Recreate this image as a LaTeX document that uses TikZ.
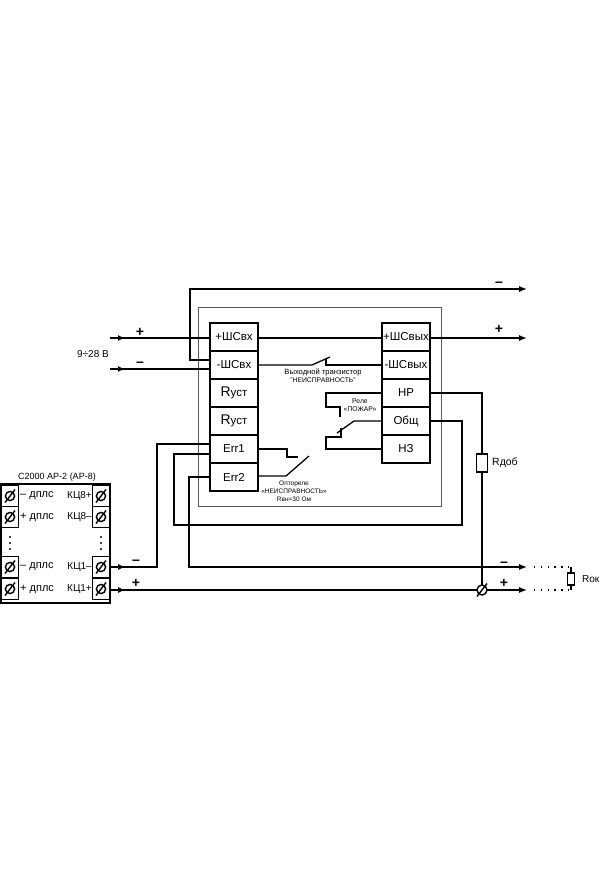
\documentclass[tikz,border=0pt]{standalone}
\usepackage{fontspec}
\setmainfont{Liberation Sans}
\usetikzlibrary{arrows.meta,decorations.markings}
\newcommand{\Rust}{{\fontsize{14}{14}\selectfont R}уст}
\tikzset{
  wire/.style={line width=1.3pt},
  wirein/.style={wire,postaction={decorate},decoration={markings,
      mark=at position 15pt with {\arrow{Latex[length=7pt,width=6pt]}}}},
  wireout/.style={wire,-{Latex[length=8pt,width=6pt]}},
  cell/.style={draw,line width=1.7pt,minimum width=48pt,minimum height=28pt,
      inner sep=0pt,font=\fontsize{11.5}{12}\selectfont},
  term/.style={draw,line width=1.3pt,minimum width=17pt,minimum height=21pt,inner sep=0pt},
  tag/.style={inner sep=0pt,font=\fontsize{10}{11}\selectfont},
  small/.style={inner sep=0pt,align=center,font=\fontsize{6.8}{8.2}\selectfont},
  sign/.style={inner sep=0pt,font=\bfseries\fontsize{14}{14}\selectfont},
  resist/.style={draw,line width=1.3pt,fill=white,inner sep=0pt},
  dotwire/.style={line width=1.2pt,dash pattern=on 1.3pt off 5.5pt}
}
\begin{document}
\begin{tikzpicture}[x=1pt,y=-1pt]
  \useasboundingbox (0,0) rectangle (600,888);
  %
  % frame of the device
  \draw[gray!70!black,line width=0.8pt] (198,307) rectangle (441,506);
  %
  % left and right rows of cells
  \foreach \name/\txt/\yy in {pin/+ШСвх/337, min/-ШСвх/365, ra/\Rust/393,
                              rb/\Rust/421, erra/Err1/449, errb/Err2/477}
    \node[cell] (\name) at (234,\yy) {\txt};
  \foreach \name/\txt/\yy in {pout/+ШСвых/337, mout/-ШСвых/365, nr/НР/393,
                              com/Общ/421, nz/НЗ/449}
    \node[cell] (\name) at (406,\yy) {\txt};
  %
  % the module, lower left
  \node[draw,line width=2pt,minimum width=109pt,minimum height=119pt,inner sep=0pt]
    (module) at (55,543) {};
  \node[tag,font=\fontsize{9}{11}\selectfont] (modtitle) at (57,477) {С2000 АР-2 (АР-8)};
  \foreach \name/\yy/\ltxt/\rtxt in {a/496/– дплс/КЦ8+, b/517/+ дплс/КЦ8–,
                                     c/567/– дплс/КЦ1–, d/589/+ дплс/КЦ1+}
  {
    \node[term] (tl\name) at (10,\yy) {};
    \node[term] (tr\name) at (101,\yy) {};
    \node[tag,anchor=west,font=\fontsize{11}{11}\selectfont] (ll\name) at (20,\yy) {\ltxt};
    \node[tag,anchor=east] (lr\name) at (92,\yy) {\rtxt};
    \foreach \cc in {tl\name,tr\name}
    {
      \draw[line width=1.4pt] (\cc) circle (4.6pt);
      \draw[line width=1.4pt] ([shift={(-5,6.5)}]\cc.center) -- ([shift={(5,-6.5)}]\cc.center);
    }
  }
  \foreach \xx in {10,101}
    \foreach \yy in {537,543,549}
      \fill (\xx,\yy) circle (1.2pt);
  %
  % supply
  \coordinate (inp) at (110,338);
  \coordinate (inm) at (110,369);
  \node[tag] (volt) at (93,354) {9÷28 В};
  \node[sign] (sinp) at (140,332) {+};
  \node[sign] (sinm) at (140,364) {–};
  \draw[wirein] (inp) -- (pin.west |- inp);
  \draw[wirein] (inm) -- (min.west |- inm);
  \draw[wire] (pin.east |- inp) -- (pout.west |- inp);
  %
  % outputs on the top
  \coordinate (topend) at (527,289);
  \coordinate (topout) at (527,338);
  \node[sign] (stop) at (499,284) {–};
  \node[sign] (sout) at (499,329) {+};
  \draw[wireout] (min.west |- 0,360) -| (190,289) -- (topend);
  \draw[wireout] (pout.east |- topout) -- (topout);
  %
  % output transistor
  \coordinate (tsa) at (312,365);
  \coordinate (tsb) at (330,357);
  \coordinate (tsc) at (326,358);
  \draw[wire] (min.east |- tsa) -- (tsa) -- (tsb);
  \draw[wire] (tsc) |- (mout.west |- tsa);
  \node[small] (tslabel) at (323,376) {{\fontsize{7.6}{8.2}\selectfont Выходной транзистор}\\"НЕИСПРАВНОСТЬ"};
  %
  % relay
  \coordinate (rela) at (340,417);
  \coordinate (relb) at (341,428);
  \coordinate (relc) at (354,421);
  \coordinate (reld) at (337,433);
  \draw[wire] (nr.west) -- (326,393) |- (340,407) -- (rela);
  \draw[wire] (com.west |- relc) -- (relc) -- (reld);
  \draw[wire] (nz.west) -- (326,449) |- (341,437) -- (relb);
  \node[small] (rellabel) at (360,405) {Реле\\«ПОЖАР»};
  %
  % opto relay
  \coordinate (opa) at (298,457);
  \coordinate (opb) at (309,456);
  \coordinate (opc) at (286,476);
  \draw[wire] (erra.east) -- (287,449) |- (opa);
  \draw[wire] (errb.east |- opc) -- (opc) -- (opb);
  \node[small,font=\fontsize{6.5}{8.2}\selectfont] (oplabel) at (294,491) {Оптореле\\«НЕИСПРАВНОСТЬ»\\Rвн=30 Ом};
  %
  % loop wires
  \coordinate (lpm) at (527,567);
  \coordinate (lpp) at (527,590);
  \node[sign] (smod) at (136,562) {–};
  \node[sign] (pmod) at (136,583) {+};
  \node[sign] (smid) at (504,564) {–};
  \node[sign] (pmid) at (504,583) {+};
  \draw[wirein] (trc.east |- lpm) -- (157,567) |- (erra.west |- 0,444);
  \draw[wire] (erra.west |- 0,454) -| (174,525) -| (462,421) -- (com.east);
  \draw[wireout] (errb.west |- 0,477) -| (189,567) -- (lpm);
  \draw[wirein] (trd.east |- lpp) -- ([xshift=-7pt]lpp);
  \draw[wireout] ([xshift=-7pt]lpp) -- (lpp);
  %
  % resistors
  \node[resist,minimum width=11pt,minimum height=18pt] (rdob) at (482,463) {};
  \node[tag,anchor=west,font=\fontsize{10.5}{11}\selectfont] (rdoblabel) at (492,463) {Rдоб};
  \coordinate (screw) at (482,590);
  \draw[wire] (nr.east) -| (rdob.north);
  \draw[wire] (rdob.south) -- (screw);
  \draw[line width=1.4pt,fill=white] (screw) circle (5pt);
  \draw[line width=1.4pt] ([shift={(-5,6.5)}]screw) -- ([shift={(5,-6.5)}]screw);
  \node[resist,minimum width=7pt,minimum height=12pt] (rok) at (571,579) {};
  \node[tag,anchor=west] (roklabel) at (582,579) {Rок};
  \draw[wire] (571,567) coordinate (roka) -- (rok.north);
  \draw[wire] (rok.south) -- (571,590) coordinate (rokb);
  \draw[dotwire] ([xshift=7pt]lpm) -- (roka);
  \draw[dotwire] ([xshift=7pt]lpp) -- (rokb);
\end{tikzpicture}
\end{document}
